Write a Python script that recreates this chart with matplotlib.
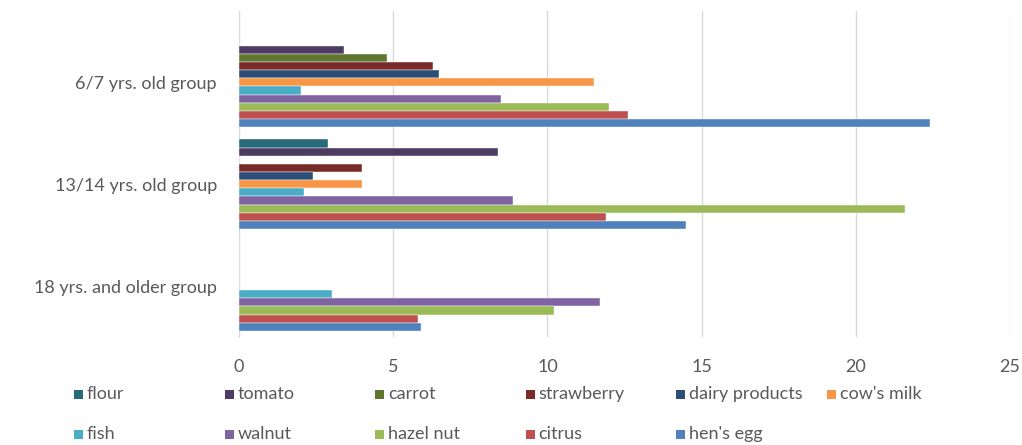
import matplotlib
matplotlib.use("Agg")
import matplotlib.pyplot as plt
from matplotlib.patches import Rectangle
import numpy as np

groups = ["6/7 yrs. old group", "13/14 yrs. old group", "18 yrs. and older group"]
series = ["flour", "tomato", "carrot", "strawberry", "dairy products", "cow's milk",
          "fish", "walnut", "hazel nut", "citrus", "hen's egg"]
flour = [0, 2.9, 0]
tomato = [3.4, 8.4, 0]
carrot = [4.8, 0, 0]
strawberry = [6.3, 4.0, 0]
dairy_products = [6.5, 2.4, 0]
cows_milk = [11.5, 4.0, 0]
fish = [2.0, 2.1, 3.0]
walnut = [8.5, 8.9, 11.7]
hazel_nut = [12.0, 21.6, 10.2]
citrus = [12.6, 11.9, 5.8]
hens_egg = [22.4, 14.5, 5.9]
values = [flour, tomato, carrot, strawberry, dairy_products, cows_milk,
          fish, walnut, hazel_nut, citrus, hens_egg]
colors = ["#276A7C", "#4D3B62", "#5F7530", "#772C2A", "#2C4D75", "#F79646",
          "#4BACC6", "#8064A2", "#9BBB59", "#C0504D", "#4F81BD"]
xticks = [0, 5, 10, 15, 20, 25]

W, H = 1022, 445
fig = plt.figure(figsize=(W / 100, H / 100), dpi=100)
ax = fig.add_axes([239 / W, 1 - 337 / H, (1010 - 239) / W, (337 - 11) / H])

font = ["Lato", "DejaVu Sans"]
tc = "#595959"

centers = np.array([2, 1, 0])  # group order top to bottom
h = 0.08
n = len(series)
for i, (name, vals, c) in enumerate(zip(series, values, colors)):
    # flour on top (index 0) ... hen's egg at bottom
    off = (n - 1 - i - (n - 1) / 2) * h
    ax.barh(centers + off, vals, height=h, color=c, edgecolor="white", linewidth=0.3, zorder=3)

ax.set_xlim(0, 25)
ax.set_ylim(-0.5, 2.70)
ax.set_xticks(xticks)
ax.set_xticklabels([str(t) for t in xticks], fontsize=13, color=tc, family=font)
ax.set_yticks(centers)
ax.set_yticklabels(groups, fontsize=13, color=tc, family=font)
ax.tick_params(axis="x", length=0, pad=16)
ax.tick_params(axis="y", length=0, pad=16)
ax.grid(axis="x", color="#D9D9D9", linewidth=1, zorder=0)
for s in ["top", "right", "bottom"]:
    ax.spines[s].set_visible(False)
ax.spines["left"].set_color("#D9D9D9")
ax.spines["left"].set_zorder(1)

# legend, placed in rows of 6
lfont = ["Liberation Sans Narrow", "Lato", "DejaVu Sans"]
for i, (name, c) in enumerate(zip(series, colors)):
    col, row = i % 6, i // 6
    x = 74 + col * 150.5
    y = 394 + row * 40
    fig.patches.append(Rectangle((x / W, 1 - (y + 4.5) / H), 9 / W, 9 / H,
                                 transform=fig.transFigure, facecolor=c, edgecolor="none"))
    fig.text((x + 13) / W, 1 - y / H, name, fontsize=13, color=tc, family=lfont,
             va="center", ha="left")

fig.savefig("out.png", dpi=100, facecolor="white")
